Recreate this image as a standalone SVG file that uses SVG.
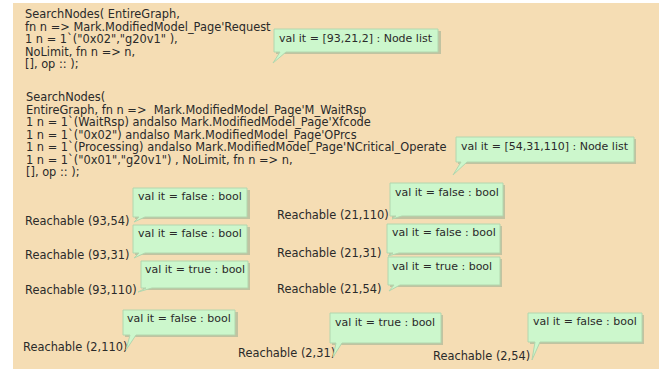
<svg xmlns="http://www.w3.org/2000/svg" width="670" height="369" viewBox="0 0 670 369">
<defs>
<style>
.t{font-family:"DejaVu Sans","Liberation Sans",sans-serif;font-size:11.4px;fill:#2a2a2a}
.c{font-family:"DejaVu Sans","Liberation Sans",sans-serif;font-size:11px;fill:#2a2a2a}
.box{fill:#ccf7cc;stroke:#b2d6ae;stroke-width:1}
.sh{fill:#9fb394;opacity:0.6}
</style>
</defs>
<rect x="0" y="0" width="670" height="369" fill="#ffffff"/>
<rect x="13" y="3" width="646" height="366" fill="#f5ddb4"/>
<g id="query1">
<text class="t" x="25" y="18">SearchNodes( EntireGraph,</text>
<text class="t" x="25" y="30.5">fn n =&gt; Mark.ModifiedModel_Page'Request</text>
<text class="t" x="25" y="43">1 n = 1`("0x02","g20v1" ),</text>
<text class="t" x="25" y="55.5">NoLimit, fn n =&gt; n,</text>
<text class="t" x="25" y="68">[], op :: );</text>
</g>
<g id="query2">
<text class="t" x="26" y="101">SearchNodes(</text>
<text class="t" x="26" y="113.5" xml:space="preserve">EntireGraph, fn n =&gt;  Mark.ModifiedModel_Page'M_WaitRsp</text>
<text class="t" x="26" y="126">1 n = 1`(WaitRsp) andalso Mark.ModifiedModel_Page'Xfcode</text>
<text class="t" x="26" y="138.5">1 n = 1`("0x02") andalso Mark.ModifiedModel_Page'OPrcs</text>
<text class="t" x="26" y="151">1 n = 1`(Processing) andalso Mark.ModifiedModel_Page'NCritical_Operate</text>
<text class="t" x="26" y="163.5">1 n = 1`("0x01","g20v1") , NoLimit, fn n =&gt; n,</text>
<text class="t" x="26" y="176">[], op :: );</text>
</g>
<g id="labels">
<text class="t" x="25" y="225">Reachable (93,54)</text>
<text class="t" x="25" y="259">Reachable (93,31)</text>
<text class="t" x="25" y="294">Reachable (93,110)</text>
<text class="t" x="23" y="351">Reachable (2,110)</text>
<text class="t" x="277" y="219">Reachable (21,110)</text>
<text class="t" x="277" y="257">Reachable (21,31)</text>
<text class="t" x="277" y="293">Reachable (21,54)</text>
<text class="t" x="238" y="357">Reachable (2,31)</text>
<text class="t" x="433" y="360">Reachable (2,54)</text>
</g>
<g id="c1">
<rect class="sh" x="276" y="31" width="165" height="23"/>
<path class="box" d="M274,29H438V52H286L273,63L280,52H274Z"/>
<text class="c" x="279" y="42">val it = [93,21,2] : Node list</text>
</g>
<g id="c2">
<rect class="sh" x="458" y="139" width="178" height="25"/>
<path class="box" d="M456,137H634V162H467L453,175L461,162H456Z"/>
<text class="c" x="461" y="150">val it = [54,31,110] : Node list</text>
</g>
<g id="c3">
<rect class="sh" x="135" y="190" width="115" height="29"/>
<path class="box" d="M133,188H247V217H145L134,222L139,217H133Z"/>
<text class="c" x="138" y="200">val it = false : bool</text>
</g>
<g id="c4">
<rect class="sh" x="135" y="227" width="115" height="28"/>
<path class="box" d="M133,225H247V253H145L134,258L139,253H133Z"/>
<text class="c" x="138" y="237">val it = false : bool</text>
</g>
<g id="c5">
<rect class="sh" x="143" y="263" width="107" height="27"/>
<path class="box" d="M141,261H248V288H152L138,292L146,288H141Z"/>
<text class="c" x="145" y="273">val it = true : bool</text>
</g>
<g id="c6">
<rect class="sh" x="125" y="312" width="113" height="25"/>
<path class="box" d="M123,310H235V335H136L126,350L130,335H123Z"/>
<text class="c" x="127" y="322">val it = false : bool</text>
</g>
<g id="c7">
<rect class="sh" x="392" y="185" width="113" height="34"/>
<path class="box" d="M390,183H503V216H402L392,219L396,216H390Z"/>
<text class="c" x="395" y="196">val it = false : bool</text>
</g>
<g id="c8">
<rect class="sh" x="389" y="226" width="113" height="29"/>
<path class="box" d="M387,224H500V253H399L388,256L393,253H387Z"/>
<text class="c" x="392" y="236">val it = false : bool</text>
</g>
<g id="c9">
<rect class="sh" x="390" y="259" width="112" height="28"/>
<path class="box" d="M388,257H500V285H400L389,291L394,285H388Z"/>
<text class="c" x="392" y="270">val it = true : bool</text>
</g>
<g id="c10">
<rect class="sh" x="332" y="315" width="111" height="30"/>
<path class="box" d="M330,313H441V343H342L333,357L336,343H330Z"/>
<text class="c" x="335" y="326">val it = true : bool</text>
</g>
<g id="c11">
<rect class="sh" x="530" y="315" width="114" height="29"/>
<path class="box" d="M528,313H642V342H540L532,360L535,342H528Z"/>
<text class="c" x="533" y="325">val it = false : bool</text>
</g>
<g id="connectors"></g>
</svg>
